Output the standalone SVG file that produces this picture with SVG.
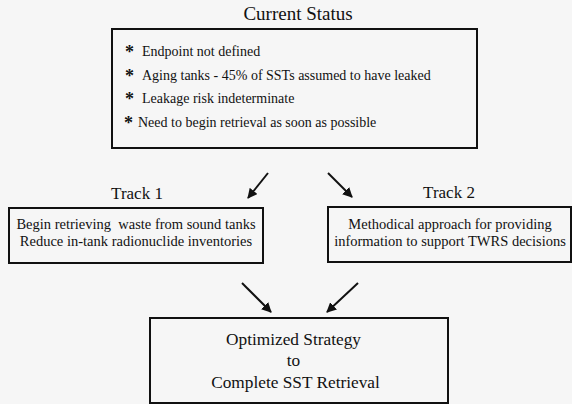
<svg xmlns="http://www.w3.org/2000/svg" width="572" height="404" viewBox="0 0 572 404">
  <defs>
    <style>
      text { fill: #111; }
      .box { fill: none; stroke: #111; stroke-width: 2; }
      .title { font-size: 19px; text-anchor: middle; }
      .track { font-size: 17px; text-anchor: middle; }
      .item { font-size: 14px; }
      .star { font-size: 18px; font-weight: bold; }
      .small { font-size: 14.5px; text-anchor: middle; }
      .big { font-size: 17.3px; text-anchor: middle; }
      .conn { stroke: #111; stroke-width: 2; fill: none; marker-end: url(#head); }
    </style>
    <marker id="head" viewBox="0 0 10 10" refX="9" refY="5" markerWidth="5" markerHeight="5" orient="auto" markerUnits="strokeWidth">
      <path d="M0,0 L10,5 L0,10 Z" fill="#111"/>
    </marker>
  </defs>

  <rect width="572" height="404" fill="#f6f6f6"/>

  <g id="current-status" font-family="Liberation Serif">
    <text class="title" x="298" y="20">Current Status</text>
    <rect class="box" x="112" y="29" width="365" height="119"/>
    <text class="star" x="125" y="58">*</text>
    <text class="item" x="142" y="56">Endpoint not defined</text>
    <text class="star" x="125" y="82">*</text>
    <text class="item" x="142" y="80">Aging tanks - 45% of SSTs assumed to have leaked</text>
    <text class="star" x="125" y="105">*</text>
    <text class="item" x="142" y="103">Leakage risk indeterminate</text>
    <text class="star" x="124" y="129">*</text>
    <text class="item" x="138" y="127">Need to begin retrieval as soon as possible</text>
  </g>

  <g id="track-1" font-family="Liberation Serif">
    <text class="track" x="137" y="199">Track 1</text>
    <rect class="box" x="9" y="208" width="254" height="55"/>
    <text class="small" x="136" y="229" xml:space="preserve">Begin retrieving  waste from sound tanks</text>
    <text class="small" x="136" y="246">Reduce in-tank radionuclide inventories</text>
  </g>

  <g id="track-2" font-family="Liberation Serif">
    <text class="track" x="449" y="198">Track 2</text>
    <rect class="box" x="328" y="207" width="243" height="55"/>
    <text class="small" x="450" y="229">Methodical approach for providing</text>
    <text class="small" x="450" y="246">information to support TWRS decisions</text>
  </g>

  <g id="optimized-strategy" font-family="Liberation Serif">
    <rect class="box" x="150" y="318" width="298" height="85"/>
    <text class="big" x="293.5" y="345">Optimized Strategy</text>
    <text class="big" x="293.5" y="366">to</text>
    <text class="big" x="295.5" y="388">Complete SST Retrieval</text>
  </g>

  <g id="connectors">
    <line class="conn" x1="268" y1="173" x2="248" y2="198"/>
    <line class="conn" x1="328" y1="173" x2="352" y2="197"/>
    <line class="conn" x1="242" y1="283" x2="271" y2="312"/>
    <line class="conn" x1="358" y1="283" x2="327" y2="312"/>
  </g>
</svg>
